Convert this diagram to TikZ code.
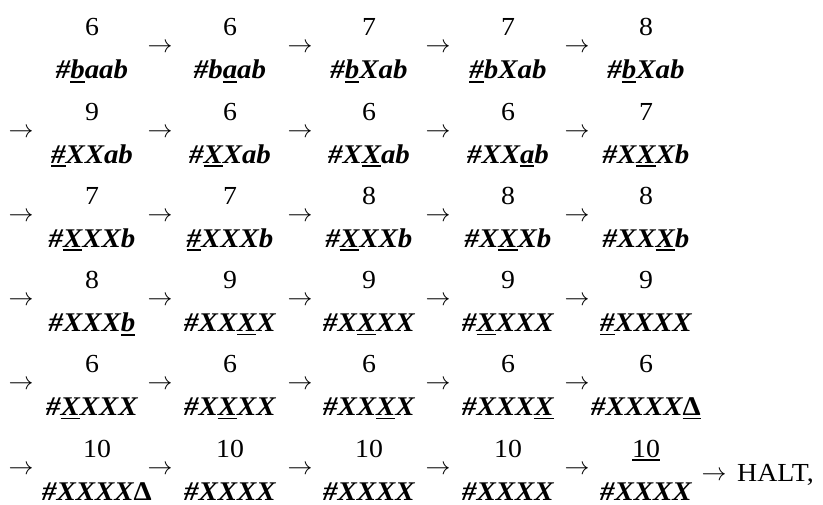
\documentclass[tikz,border=0pt]{standalone}
\usepackage{fontspec}
\setmainfont[FakeStretch=1.07]{Liberation Serif}
\newcommand\uln[1]{\vtop{\hbox{#1}\kern2pt\hrule height 1.6pt}}
\newcommand\Dlt{{\upshape Δ}}
\tikzset{
  num/.style={anchor=base, inner sep=0pt, font=\fontsize{26}{30}\selectfont},
  str/.style={anchor=base, inner sep=0pt, font=\fontsize{27}{32}\selectfont\bfseries\itshape},
  arr/.style={anchor=base, inner sep=0pt, font=\fontsize{27}{31}\selectfont},
}
\newcommand\cell[5]{%
  \node[num] (n#1) at (#2,#3) {#4};
  \node[str] (s#1) at (#2,#3+43) {#5};}
\newcommand\arr[3]{\node[arr] (a#1) at (#2,#3+17) {$\rightarrow$};}
\begin{document}
\begin{tikzpicture}[x=1pt,y=-1pt]
\useasboundingbox[fill=white] (0,0) rectangle (823,505);
% row 1
\cell{11}{92}{36}{6}{\#\uln{b}aab}
\cell{12}{230}{36}{6}{\#b\uln{a}ab}
\cell{13}{369}{36}{7}{\#\uln{b}Xab}
\cell{14}{508}{36}{7}{\uln{\#}bXab}
\cell{15}{646}{36}{8}{\#\uln{b}Xab}
\arr{12}{160}{36}\arr{13}{300}{36}\arr{14}{438}{36}\arr{15}{577}{36}
% row 2
\cell{21}{92}{120.2}{9}{\uln{\#}XXab}
\cell{22}{230}{120.2}{6}{\#\uln{X}Xab}
\cell{23}{369}{120.2}{6}{\#X\uln{X}ab}
\cell{24}{508}{120.2}{6}{\#XX\uln{a}b}
\cell{25}{646}{120.2}{7}{\#X\uln{X}Xb}
\arr{21}{21}{120.2}\arr{22}{160}{120.2}\arr{23}{300}{120.2}\arr{24}{438}{120.2}\arr{25}{577}{120.2}
% row 3
\cell{31}{92}{204.4}{7}{\#\uln{X}XXb}
\cell{32}{230}{204.4}{7}{\uln{\#}XXXb}
\cell{33}{369}{204.4}{8}{\#\uln{X}XXb}
\cell{34}{508}{204.4}{8}{\#X\uln{X}Xb}
\cell{35}{646}{204.4}{8}{\#XX\uln{X}b}
\arr{31}{21}{204.4}\arr{32}{160}{204.4}\arr{33}{300}{204.4}\arr{34}{438}{204.4}\arr{35}{577}{204.4}
% row 4
\cell{41}{92}{288.6}{8}{\#XXX\uln{b}}
\cell{42}{230}{288.6}{9}{\#XX\uln{X}X}
\cell{43}{369}{288.6}{9}{\#X\uln{X}XX}
\cell{44}{508}{288.6}{9}{\#\uln{X}XXX}
\cell{45}{646}{288.6}{9}{\uln{\#}XXXX}
\arr{41}{21}{288.6}\arr{42}{160}{288.6}\arr{43}{300}{288.6}\arr{44}{438}{288.6}\arr{45}{577}{288.6}
% row 5
\cell{51}{92}{372.8}{6}{\#\uln{X}XXX}
\cell{52}{230}{372.8}{6}{\#X\uln{X}XX}
\cell{53}{369}{372.8}{6}{\#XX\uln{X}X}
\cell{54}{508}{372.8}{6}{\#XXX\uln{X}}
\cell{55}{646}{372.8}{6}{\#XXXX\uln{\Dlt}}
\arr{51}{21}{372.8}\arr{52}{160}{372.8}\arr{53}{300}{372.8}\arr{54}{438}{372.8}\arr{55}{577}{372.8}
% row 6
\cell{61}{97}{457}{10}{\#XXXX\Dlt}
\cell{62}{230}{457}{10}{\#XXXX}
\cell{63}{369}{457}{10}{\#XXXX}
\cell{64}{508}{457}{10}{\#XXXX}
\cell{65}{646}{457}{\uln{10}}{\#XXXX}
\arr{61}{21}{457}\arr{62}{160}{457}\arr{63}{300}{457}\arr{64}{438}{457}\arr{65}{577}{457}
\arr{66}{714}{463}
\node[num, anchor=base west] (halt) at (737,482) {HALT,};
\end{tikzpicture}
\end{document}
